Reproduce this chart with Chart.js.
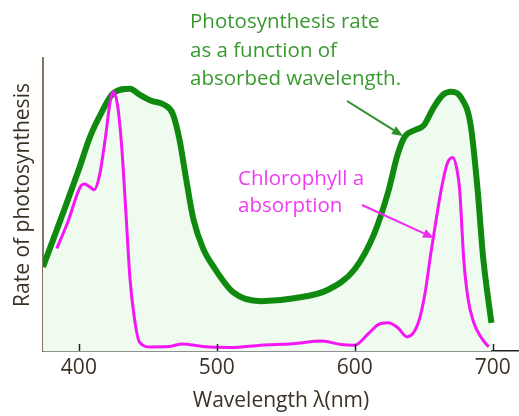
<!DOCTYPE html>
<html>
<head>
<meta charset="utf-8">
<script src="https://cdn.jsdelivr.net/npm/chart.js@4"></script>
<style>
    body { margin: 0; background: #fff; }
    #wrap { width: 519px; height: 416px; }
</style>
</head>
<body>
<div id="wrap"><canvas id="photoChart" width="519" height="416"></canvas></div>
<script>
// photosynthesis rate (green curve)
const rateWavelengths = [374, 390, 400, 408, 416, 425, 437, 444, 452, 462, 468, 473, 478, 483, 490, 498, 512, 532, 556, 581, 600, 614, 624, 631, 636, 644, 650, 657, 664, 670, 677, 684, 689, 693, 699];
const rateValues = [28.7, 49, 62, 73, 81, 88, 89.5, 87.5, 85.5, 84, 81, 72, 58, 45, 35, 28.5, 20, 17, 18, 21, 28, 40, 54, 67, 73, 75.5, 77, 83, 87.5, 88.5, 86.5, 77, 55, 32, 9.6];

// chlorophyll a absorption (magenta curve)
const absWavelengths = [384, 392, 401, 404, 408, 411, 415, 419, 423, 425, 428, 431, 434, 437, 440, 444, 452, 465, 475, 490, 510, 532, 555, 576, 590, 600, 610, 617, 624, 631, 638, 646, 651, 655, 659, 663, 667, 671, 674, 676, 679, 682, 686, 691, 697];
const absValues = [35, 44, 56, 57, 56, 55, 60, 72, 86, 88.5, 84, 70, 48, 25, 12, 3, 1.4, 1.5, 2.4, 1.5, 1.2, 2, 2.5, 3.4, 2.2, 2, 6, 9, 9.6, 8, 4.8, 9.6, 20, 33, 45, 56, 64, 66, 62, 55, 31, 18, 10, 5, 1.4];

const xTicks = [400, 500, 600, 700];

const textFont = 'Open Sans';
const axisColor = '#3b3226';

function toPoints(xs, ys) {
    return xs.map((x, i) => ({ x: x, y: ys[i] }));
}

// inward tick marks, y title, arrows and the two notes
const extras = {
    id: 'extras',
    afterDatasetsDraw(chart) {
        const c = chart.ctx;
        const xs = chart.scales.x;
        const bottom = chart.chartArea.bottom;
        c.save();
        c.strokeStyle = '#222';
        c.lineWidth = 1.5;
        xTicks.forEach(t => {
            const px = Math.round(xs.getPixelForValue(t)) + 0.5;
            c.beginPath();
            c.moveTo(px, bottom);
            c.lineTo(px, bottom - 7);
            c.stroke();
        });

        // y axis title
        c.save();
        c.translate(23, 195);
        c.rotate(-Math.PI / 2);
        c.font = '21px ' + textFont;
        c.fillStyle = axisColor;
        c.textAlign = 'center';
        c.textBaseline = 'middle';
        c.fillText('Rate of photosynthesis', 0, 0);
        c.restore();

        function arrow(x1, y1, x2, y2, color) {
            c.strokeStyle = color;
            c.fillStyle = color;
            c.lineWidth = 2;
            const a = Math.atan2(y2 - y1, x2 - x1);
            const hx = x2 - 11 * Math.cos(a), hy = y2 - 11 * Math.sin(a);
            c.beginPath();
            c.moveTo(x1, y1);
            c.lineTo(hx, hy);
            c.stroke();
            c.beginPath();
            c.moveTo(x2, y2);
            c.lineTo(hx + 4.5 * Math.sin(a), hy - 4.5 * Math.cos(a));
            c.lineTo(hx - 4.5 * Math.sin(a), hy + 4.5 * Math.cos(a));
            c.closePath();
            c.fill();
        }
        arrow(347, 101, 403, 136, '#2b8f2b');
        arrow(362, 205, 434, 238, '#f02af0');

        c.font = '20.5px ' + textFont;
        c.textBaseline = 'alphabetic';
        c.fillStyle = '#38992e';
        c.fillText('Photosynthesis rate', 190, 28);
        c.fillText('as a function of', 190, 57);
        c.fillText('absorbed wavelength.', 190, 85);
        c.fillStyle = '#f03cf0';
        c.fillText('Chlorophyll a', 238, 185);
        c.fillText('absorption', 238, 212);
        c.restore();
    }
};

const ctx = document.getElementById('photoChart').getContext('2d');
new Chart(ctx, {
    type: 'line',
    data: {
        datasets: [{
            label: 'Chlorophyll a absorption',
            data: toPoints(absWavelengths, absValues),
            borderColor: '#f516f5',
            borderWidth: 3,
            pointRadius: 0,
            cubicInterpolationMode: 'monotone',
            fill: false,
            order: 1
        }, {
            label: 'Photosynthesis rate',
            data: toPoints(rateWavelengths, rateValues),
            borderColor: '#0f8a0f',
            backgroundColor: '#eefbee',
            borderWidth: 6,
            pointRadius: 0,
            cubicInterpolationMode: 'monotone',
            fill: 'origin',
            order: 2
        }]
    },
    options: {
        responsive: false,
        animation: false,
        layout: { padding: { top: 58, right: 0, left: 0, bottom: 0 } },
        plugins: {
            legend: { display: false },
            tooltip: { enabled: false }
        },
        scales: {
            x: {
                type: 'linear',
                min: 374,
                max: 719,
                afterFit: s => { s.height = 65; },
                border: { color: '#222', width: 1.5 },
                grid: { display: false, drawTicks: false },
                ticks: {
                    stepSize: 100,
                    includeBounds: false,
                    padding: 4,
                    color: axisColor,
                    font: { family: textFont, size: 21 }
                },
                title: {
                    display: true,
                    text: 'Wavelength λ(nm)',
                    color: axisColor,
                    padding: { top: 0, bottom: 2 },
                    font: { family: textFont, size: 21 }
                }
            },
            y: {
                min: 0,
                max: 100,
                afterFit: s => { s.width = 43; },
                border: { color: '#857565', width: 2 },
                grid: { display: false, drawTicks: false },
                ticks: { display: false }
            }
        }
    },
    plugins: [extras]
});
</script>
</body>
</html>
